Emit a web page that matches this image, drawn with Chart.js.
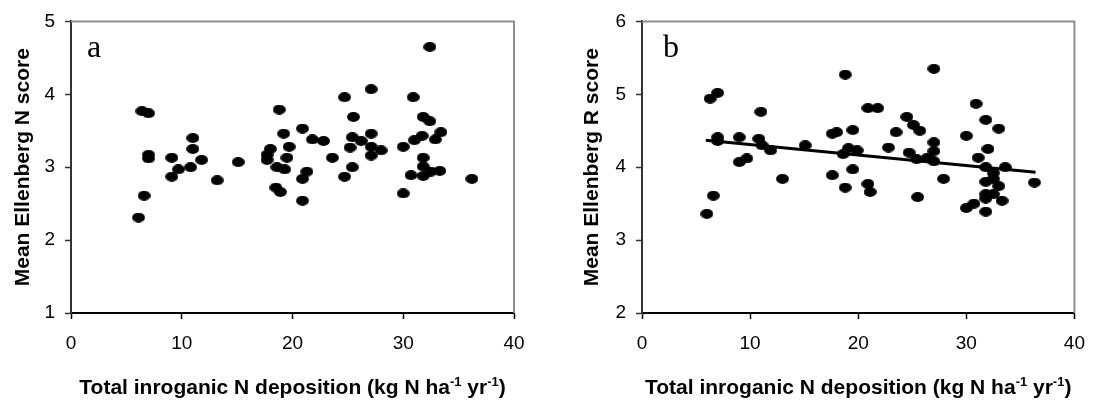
<!DOCTYPE html>
<html>
<head>
<meta charset="utf-8">
<script src="https://cdn.jsdelivr.net/npm/chart.js@4"></script>
<style>
body{margin:0;background:#fff;}
.panel{position:absolute;top:0;width:549px;height:405px;}
</style>
</head>
<body>
<div class="panel" style="left:0"><canvas id="graficaN" width="549" height="405"></canvas></div>
<div class="panel" style="left:549px"><canvas id="graficaR" width="549" height="405"></canvas></div>
<script>
// Panel a: Ellenberg N
const depositoA=[6.4,7.0,7.0,7.0,6.6,6.1,9.1,9.1,9.7,10.8,11.0,11.0,11.8,13.2,15.1,
    18.8,18.0,17.7,17.7,19.2,19.7,19.5,18.6,19.3,18.5,18.9,20.9,21.8,22.8,21.3,20.9,20.9,23.6,
    24.7,25.5,25.4,25.2,25.4,24.7,26.2,27.1,27.1,27.1,27.1,28.0,
    32.4,30.9,31.8,32.4,33.4,31.7,31.0,32.9,30.0,31.8,31.8,30.7,31.8,32.5,33.3,36.2,30.0];
const puntajeN=[3.77,3.74,3.17,3.12,2.61,2.31,3.13,2.87,2.97,3.00,3.40,3.25,3.10,2.82,3.07,
    3.79,3.25,3.17,3.10,3.46,3.28,3.13,3.00,2.97,2.72,2.66,3.53,3.38,3.36,2.94,2.84,2.54,3.13,
    3.96,3.69,3.41,3.27,3.00,2.87,3.36,4.07,3.46,3.28,3.16,3.23,
    4.65,3.96,3.69,3.63,3.48,3.43,3.37,3.38,3.28,3.13,3.01,2.89,2.88,2.94,2.95,2.84,2.64];

// Panel b: Ellenberg R
const depositoB=[6.3,7.0,6.0,6.6,7.0,7.0,9.0,9.0,9.7,11.0,10.8,11.1,11.9,13.0,15.1,
    17.6,18.0,18.8,19.5,18.6,19.1,19.9,19.5,17.6,18.8,20.9,21.8,20.9,21.1,
    22.8,23.5,24.5,25.1,25.7,24.7,25.4,25.5,26.4,27.0,27.0,27.0,27.0,27.9,
    30.9,31.8,33.0,30.0,32.0,31.1,31.8,33.6,32.5,31.8,32.5,33.0,31.8,32.5,31.8,33.3,30.0,30.7,31.8,36.3];
const puntajeR=[4.94,5.02,3.36,3.61,4.41,4.36,4.41,4.07,4.12,4.76,4.39,4.30,4.23,3.84,4.30,
    4.46,4.48,5.27,4.51,4.18,4.26,4.23,3.97,3.89,3.72,4.81,4.81,3.77,3.66,
    4.27,4.48,4.69,4.58,4.50,4.20,4.11,3.59,4.13,5.35,4.34,4.22,4.08,3.84,
    4.87,4.65,4.53,4.43,4.25,4.13,4.00,4.00,3.92,3.80,3.84,3.74,3.63,3.63,3.57,3.54,3.44,3.50,3.39,3.79];

// linea de tendencia (panel b)
const tendenciaX=[5.9,36.4];
const tendenciaY=[4.37,3.93];

const ticksX=[0,10,20,30,40];
const ticksYa=[1,2,3,4,5];
const ticksYb=[2,3,4,5,6];

const fuente='"Liberation Sans", Arial, sans-serif';

// punto eliptico
const punto=document.createElement('canvas');
punto.width=13; punto.height=10;
const pctx=punto.getContext('2d');
pctx.fillStyle='#000';
pctx.beginPath();
pctx.ellipse(6.5,5,6.4,4.9,0,0,Math.PI*2);
pctx.fill();

const pares=(xs,ys)=>xs.map((x,i)=>({x:x,y:ys[i]}));

// marco gris, letra del panel y titulo X con superindices
const extras={
    id:'extras',
    beforeDatasetsDraw(chart,args,opts){
        const {ctx,chartArea:a}=chart;
        ctx.save();
        ctx.strokeStyle='#8e8e8e';
        ctx.lineWidth=2;
        ctx.beginPath();
        ctx.moveTo(a.left,a.top);
        ctx.lineTo(a.right,a.top);
        ctx.lineTo(a.right,a.bottom);
        ctx.stroke();
        ctx.restore();
    },
    afterDraw(chart,args,opts){
        const {ctx,chartArea:a}=chart;
        ctx.save();
        ctx.fillStyle='#000';
        ctx.font='32px "Liberation Serif", "Times New Roman", serif';
        ctx.textBaseline='alphabetic';
        ctx.fillText(opts.letra,a.left+opts.dx,57);

        const partes=[['Total inroganic N deposition (kg N ha',0],['-1',1],[' yr',0],['-1',1],[')',0]];
        const normal='bold 21px '+fuente;
        const sup='bold 13px '+fuente;
        let total=0;
        partes.forEach(p=>{ctx.font=p[1]?sup:normal; total+=ctx.measureText(p[0]).width;});
        let x=(a.left+a.right)/2-total/2;
        partes.forEach(p=>{
            ctx.font=p[1]?sup:normal;
            ctx.fillText(p[0],x,p[1]?386:394);
            x+=ctx.measureText(p[0]).width;
        });
        ctx.restore();
    }
};

function crearGrafica(id,datos,ymin,ymax,ticksY,tituloY,anchoY,derecha,tituloPad,letra,dx,tendencia){
    const datasets=[{
        type:'scatter',
        data:datos,
        pointStyle:punto,
        pointRadius:6,
        backgroundColor:'#000',
        borderColor:'#000',
        order:1
    }];
    if(tendencia){
        datasets.push({
            type:'line',
            data:tendencia,
            borderColor:'#000',
            borderWidth:3,
            pointRadius:0,
            fill:false,
            order:2
        });
    }
    return new Chart(document.getElementById(id),{
        type:'scatter',
        data:{datasets:datasets},
        options:{
            responsive:false,
            animation:false,
            layout:{padding:{top:16,right:derecha,left:0,bottom:0}},
            plugins:{legend:{display:false},tooltip:{enabled:false},extras:{letra:letra,dx:dx}},
            scales:{
                x:{
                    type:'linear',min:0,max:40,
                    afterBuildTicks:s=>{s.ticks=ticksX.map(v=>({value:v}));},
                    afterFit:s=>{s.height=92;},
                    grid:{drawOnChartArea:false,drawTicks:true,tickLength:6,tickColor:'#000',tickWidth:1.5},
                    border:{display:true,color:'#000',width:2},
                    ticks:{color:'#000',padding:13,maxRotation:0,font:{family:fuente,size:19}}
                },
                y:{
                    type:'linear',min:ymin,max:ymax,
                    afterBuildTicks:s=>{s.ticks=ticksY.map(v=>({value:v}));},
                    afterFit:s=>{s.width=anchoY;},
                    grid:{drawOnChartArea:false,drawTicks:true,tickLength:6,tickColor:'#333',tickWidth:1.5},
                    border:{display:true,color:'#333',width:2},
                    ticks:{color:'#000',padding:10,font:{family:fuente,size:19}},
                    title:{display:true,text:tituloY,color:'#000',padding:{top:tituloPad,bottom:0},
                        font:{family:fuente,size:21,weight:'bold'}}
                }
            }
        },
        plugins:[extras]
    });
}

crearGrafica('graficaN',pares(depositoA,puntajeN),1,5,ticksYa,'Mean Ellenberg N score',71,35,11,'a',16,null);
crearGrafica('graficaR',pares(depositoB,puntajeR),2,6,ticksYb,'Mean Ellenberg R score',93,21,31,'b',21,
    pares(tendenciaX,tendenciaY));
</script>
</body>
</html>
